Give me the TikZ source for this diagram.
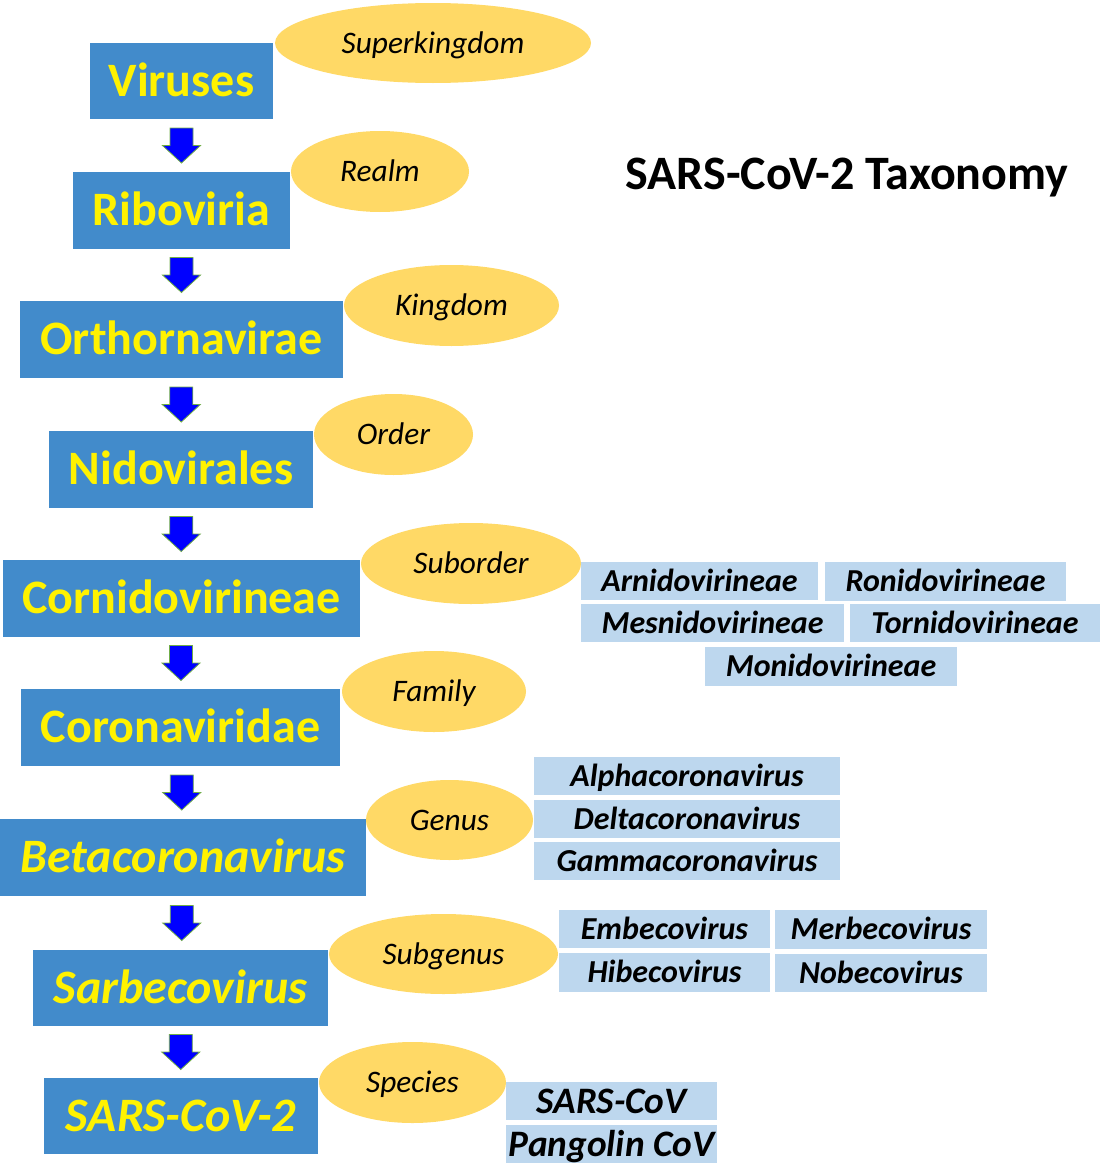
\documentclass[tikz,border=0pt]{standalone}
\usepackage{fontspec}
\setmainfont{Carlito}
\usetikzlibrary{calc,shapes.geometric}
\definecolor{boxblue}{HTML}{428BCB}
\definecolor{ellgold}{HTML}{FFD966}
\definecolor{lightbox}{HTML}{BDD7EE}
\definecolor{arrblue}{HTML}{0000FF}
\definecolor{arrgreen}{HTML}{70AD47}
\begin{document}
\begin{tikzpicture}[x=0.75pt,y=-0.75pt,
 taxon/.style={fill=boxblue, text=yellow, font=\fontsize{36}{40}\selectfont\bfseries, inner sep=0pt, text height=23.2pt, text depth=0pt},
 rank/.style={ellipse, fill=ellgold, font=\fontsize{23.5}{26}\selectfont\itshape, inner sep=0pt, text height=15.1pt, text depth=0pt},
 sib/.style={fill=lightbox, font=\fontsize{24}{28}\selectfont\bfseries\itshape, inner sep=0pt, text height=15.5pt, text depth=0pt},
 sibbig/.style={sib, font=\fontsize{28}{32}\selectfont\bfseries\itshape, text height=18pt},
 blockarrow/.style={fill=arrblue, draw=arrgreen, line width=0.6pt, line join=miter}
]
\useasboundingbox (0,0) rectangle (1102,1167);

% title
\node[font=\fontsize{36}{40}\selectfont\bfseries, text height=23.2pt, text depth=0pt] (title) at (847,174) {SARS-CoV-2 Taxonomy};

% taxon boxes
\node[taxon, minimum width={183*0.75pt}, minimum height={76*0.75pt}] (t1) at (181.5,81) {Viruses};
\node[taxon, minimum width={217*0.75pt}, minimum height={77*0.75pt}] (t2) at (181.5,210.5) {Riboviria};
\node[taxon, minimum width={323*0.75pt}, minimum height={77*0.75pt}] (t3) at (181.5,339.5) {Orthornavirae};
\node[taxon, minimum width={264*0.75pt}, minimum height={77*0.75pt}] (t4) at (181,469.5) {Nidovirales};
\node[taxon, minimum width={357*0.75pt}, minimum height={77*0.75pt}] (t5) at (181.5,598.5) {Cornidovirineae};
\node[taxon, minimum width={319*0.75pt}, minimum height={77*0.75pt}] (t6) at (180.5,727.5) {Coronaviridae};
\node[taxon, minimum width={366*0.75pt}, minimum height={77*0.75pt}] (t7) at (183,857.5) {\itshape Betacoronavirus};
\node[taxon, minimum width={295*0.75pt}, minimum height={76*0.75pt}] (t8) at (180.5,988) {\itshape Sarbecovirus};
\node[taxon, minimum width={274*0.75pt}, minimum height={76*0.75pt}] (t9) at (181,1116) {\itshape SARS-CoV-2};

% block arrows between taxa
\foreach \a/\b in {t1/t2,t2/t3,t3/t4,t4/t5,t5/t6,t6/t7,t7/t8,t8/t9}{
  \path (\a.south) -- (\b.north) coordinate[pos=0.5] (m-\a);
  \draw[blockarrow] ($(m-\a)+(-11.5,-17.5)$) -- ($(m-\a)+(11.5,-17.5)$) -- ($(m-\a)+(11.5,0)$)
     -- ($(m-\a)+(19,0)$) -- ($(m-\a)+(0,17.5)$) -- ($(m-\a)+(-19,0)$) -- ($(m-\a)+(-11.5,0)$) -- cycle;
}

% rank ellipses
\node[rank, minimum width={316*0.75pt}, minimum height={80*0.75pt}] (r1) at (433,43) {Superkingdom};
\node[rank, minimum width={178*0.75pt}, minimum height={81*0.75pt}] (r2) at (380,171.5) {Realm};
\node[rank, minimum width={215*0.75pt}, minimum height={81*0.75pt}] (r3) at (451.5,305.5) {Kingdom};
\node[rank, minimum width={159*0.75pt}, minimum height={81*0.75pt}] (r4) at (393.5,434.5) {Order};
\node[rank, minimum width={220*0.75pt}, minimum height={81*0.75pt}] (r5) at (471,563.5) {Suborder};
\node[rank, minimum width={184*0.75pt}, minimum height={81*0.75pt}] (r6) at (434,691.5) {Family};
\node[rank, minimum width={167*0.75pt}, minimum height={80*0.75pt}] (r7) at (449.5,820) {Genus};
\node[rank, minimum width={229*0.75pt}, minimum height={80*0.75pt}] (r8) at (443.5,954) {Subgenus};
\node[rank, minimum width={187*0.75pt}, minimum height={81*0.75pt}] (r9) at (412.5,1082.5) {Species};

% suborders
\node[sib, minimum width={237*0.75pt}, minimum height={38*0.75pt}] (s1) at (699.5,581) {Arnidovirineae};
\node[sib, minimum width={241*0.75pt}, minimum height={39*0.75pt}] (s2) at (945.5,581.5) {Ronidovirineae};
\node[sib, minimum width={263*0.75pt}, minimum height={38*0.75pt}] (s3) at (712.5,623) {Mesnidovirineae};
\node[sib, minimum width={250*0.75pt}, minimum height={38*0.75pt}] (s4) at (975,623) {Tornidovirineae};
\node[sib, minimum width={252*0.75pt}, minimum height={39*0.75pt}] (s5) at (831,666.5) {Monidovirineae};

% genera
\node[sib, minimum width={306*0.75pt}, minimum height={38*0.75pt}] (g1) at (687,776) {Alphacoronavirus};
\node[sib, minimum width={306*0.75pt}, minimum height={38*0.75pt}] (g2) at (687,819) {Deltacoronavirus};
\node[sib, minimum width={306*0.75pt}, minimum height={38*0.75pt}] (g3) at (687,861) {Gammacoronavirus};

% subgenera
\node[sib, minimum width={211*0.75pt}, minimum height={38*0.75pt}] (u1) at (664.5,929) {Embecovirus};
\node[sib, minimum width={212*0.75pt}, minimum height={39*0.75pt}] (u2) at (881,929.5) {Merbecovirus};
\node[sib, minimum width={211*0.75pt}, minimum height={39*0.75pt}] (u3) at (664.5,972.5) {Hibecovirus};
\node[sib, minimum width={212*0.75pt}, minimum height={38*0.75pt}] (u4) at (881,973) {Nobecovirus};

% species
\node[sibbig, minimum width={211*0.75pt}, minimum height={38*0.75pt}] (p1) at (611.5,1101) {SARS-CoV};
\node[sibbig, minimum width={211*0.75pt}, minimum height={38*0.75pt}] (p2) at (611.5,1144) {Pangolin CoV};
\end{tikzpicture}
\end{document}
